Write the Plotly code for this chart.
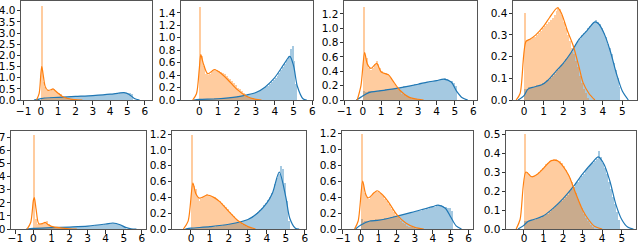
import plotly.graph_objects as go

# ---------------- data ----------------
BIN_W = 0.1
# histogram bar heights (bins of width 0.1 starting at 0)
s1_orange_hist = [4.2, 0.8, 0.6, 0.45, 0.4, 0.42, 0.48, 0.5, 0.45, 0.35, 0.3, 0.25, 0.2, 0.15, 0.12, 0.1, 0.08, 0.06, 0.05, 0.04, 0.03]
s1_blue_hist = [0.09, 0.10, 0.10, 0.11, 0.11, 0.12, 0.12, 0.12, 0.13, 0.13,
                0.13, 0.14, 0.14, 0.14, 0.15, 0.15, 0.15, 0.16, 0.16, 0.16,
                0.17, 0.17, 0.17, 0.18, 0.18, 0.18, 0.19, 0.19, 0.19, 0.20,
                0.20, 0.20, 0.21, 0.21, 0.22, 0.22, 0.23, 0.23, 0.24, 0.25,
                0.25, 0.26, 0.27, 0.28, 0.29, 0.30, 0.31, 0.32, 0.33, 0.33,
                0.32, 0.30, 0.28]
s1_orange_kde_x = [-0.25, -0.1, 0.0, 0.05, 0.12, 0.25, 0.4, 0.55, 0.7, 0.85, 1.0, 1.2, 1.5, 1.8, 2.1, 2.4]
s1_orange_kde_y = [0, 0.3, 1.2, 1.5, 1.2, 0.6, 0.44, 0.45, 0.5, 0.4, 0.3, 0.18, 0.08, 0.03, 0.01, 0]
s1_blue_kde_x = [-0.4, -0.1, 0.2, 1, 2, 3, 4, 4.5, 4.8, 5.1, 5.4, 5.7]
s1_blue_kde_y = [0, 0.04, 0.09, 0.12, 0.16, 0.2, 0.26, 0.31, 0.33, 0.25, 0.07, 0]

s2_orange_hist = [1.50, 0.70, 0.55, 0.42, 0.40, 0.42, 0.45, 0.48, 0.50, 0.48,
                  0.46, 0.45, 0.43, 0.41, 0.39, 0.36, 0.33, 0.30, 0.27, 0.24,
                  0.20, 0.17, 0.14, 0.11, 0.09, 0.07, 0.05, 0.04, 0.03, 0.02]
s2_blue_hist = [0.01, 0.01, 0.01, 0.02, 0.02, 0.02, 0.02, 0.02, 0.03, 0.03,
                0.03, 0.03, 0.03, 0.04, 0.04, 0.04, 0.04, 0.05, 0.05, 0.05,
                0.06, 0.06, 0.07, 0.07, 0.08, 0.08, 0.09, 0.10, 0.11, 0.12,
                0.13, 0.14, 0.16, 0.17, 0.19, 0.21, 0.23, 0.26, 0.29, 0.32,
                0.35, 0.39, 0.43, 0.48, 0.53, 0.58, 0.64, 0.70, 0.82, 0.86,
                0.62, 0.25]
s2_orange_kde_x = [-0.35, -0.15, 0, 0.08, 0.2, 0.45, 0.8, 1.0, 1.5, 2.0, 2.5, 3.0, 3.3]
s2_orange_kde_y = [0, 0.1, 0.5, 0.73, 0.6, 0.42, 0.49, 0.46, 0.33, 0.17, 0.06, 0.01, 0]
s2_blue_kde_x = [-0.3, 0, 1, 2, 2.5, 3, 3.5, 4, 4.5, 4.8, 5.0, 5.2, 5.5, 5.7]
s2_blue_kde_y = [0, 0.01, 0.02, 0.05, 0.08, 0.12, 0.21, 0.36, 0.58, 0.70, 0.55, 0.22, 0.02, 0]

s3_orange_hist = [1.30, 0.62, 0.58, 0.45, 0.42, 0.45, 0.50, 0.55, 0.50, 0.45,
                  0.40, 0.37, 0.37, 0.36, 0.34, 0.30, 0.26, 0.22, 0.18, 0.15,
                  0.12, 0.09, 0.07, 0.05, 0.04, 0.03, 0.02, 0.02, 0.01, 0.01]
s3_blue_hist = [0.13, 0.11, 0.11, 0.12, 0.12, 0.12, 0.13, 0.13, 0.13, 0.14,
                0.14, 0.14, 0.15, 0.15, 0.15, 0.16, 0.16, 0.16, 0.17, 0.17,
                0.18, 0.18, 0.19, 0.19, 0.20, 0.20, 0.21, 0.21, 0.22, 0.22,
                0.23, 0.23, 0.24, 0.24, 0.25, 0.25, 0.26, 0.26, 0.26, 0.27,
                0.27, 0.28, 0.28, 0.29, 0.30, 0.29, 0.28, 0.27, 0.26, 0.24,
                0.20]
s3_orange_kde_x = [-0.3, -0.1, 0.1, 0.25, 0.45, 0.75, 1.0, 1.4, 1.6, 2.0, 2.5, 3.0, 3.3]
s3_orange_kde_y = [0, 0.2, 0.66, 0.5, 0.44, 0.51, 0.39, 0.35, 0.28, 0.14, 0.04, 0.01, 0]
s3_blue_kde_x = [-0.35, -0.1, 0.3, 1, 2, 3, 3.5, 4, 4.4, 4.8, 5.1, 5.4, 5.7]
s3_blue_kde_y = [0, 0.04, 0.10, 0.13, 0.17, 0.22, 0.25, 0.27, 0.29, 0.25, 0.12, 0.03, 0]

s4_orange_hist = [0.40, 0.27, 0.28, 0.28, 0.29, 0.29, 0.30, 0.31, 0.32, 0.33,
                  0.34, 0.35, 0.36, 0.37, 0.38, 0.39, 0.41, 0.43, 0.42, 0.39,
                  0.36, 0.33, 0.30, 0.27, 0.24, 0.21, 0.18, 0.15, 0.11, 0.08,
                  0.05, 0.03, 0.01]
s4_blue_hist = [0.05, 0.05, 0.06, 0.06, 0.06, 0.06, 0.07, 0.07, 0.07, 0.08,
                0.08, 0.09, 0.09, 0.10, 0.11, 0.12, 0.13, 0.14, 0.15, 0.16,
                0.17, 0.19, 0.20, 0.21, 0.22, 0.24, 0.26, 0.27, 0.28, 0.30,
                0.31, 0.32, 0.33, 0.34, 0.35, 0.36, 0.37, 0.36, 0.35, 0.33,
                0.31, 0.29, 0.26, 0.24, 0.21, 0.17, 0.14, 0.10, 0.06]
s4_orange_kde_x = [-0.4, -0.2, 0.1, 0.3, 0.6, 1.0, 1.3, 1.7, 1.9, 2.2, 2.5, 2.8, 3.0, 3.3, 3.6]
s4_orange_kde_y = [0, 0.03, 0.27, 0.28, 0.30, 0.34, 0.38, 0.425, 0.40, 0.32, 0.25, 0.15, 0.08, 0.03, 0]
s4_blue_kde_x = [-0.3, 0, 0.2, 0.5, 0.9, 1.2, 1.6, 2.0, 2.4, 2.8, 3.2, 3.6, 3.8, 4.1, 4.4, 4.7, 5.0, 5.3]
s4_blue_kde_y = [0, 0.02, 0.05, 0.06, 0.07, 0.09, 0.13, 0.17, 0.22, 0.28, 0.32, 0.36, 0.35, 0.30, 0.22, 0.12, 0.04, 0]

s5_orange_hist = [7.2, 0.8, 0.4, 0.35, 0.38, 0.42, 0.48, 0.60, 0.35, 0.28,
                  0.22, 0.17, 0.13, 0.10, 0.08, 0.06, 0.05, 0.04, 0.03, 0.02, 0.01]
s5_blue_hist = [0.05, 0.06, 0.06, 0.07, 0.07, 0.08, 0.08, 0.09, 0.09, 0.10,
                0.10, 0.11, 0.11, 0.12, 0.12, 0.13, 0.13, 0.14, 0.14, 0.15,
                0.15, 0.16, 0.17, 0.17, 0.18, 0.19, 0.19, 0.20, 0.21, 0.22,
                0.23, 0.24, 0.25, 0.26, 0.27, 0.29, 0.30, 0.32, 0.34, 0.36,
                0.38, 0.40, 0.42, 0.44, 0.45, 0.44, 0.41, 0.36, 0.30, 0.22,
                0.13]
s5_orange_kde_x = [-0.35, -0.15, 0, 0.05, 0.15, 0.3, 0.5, 0.65, 0.8, 1.0, 1.5, 2.0, 2.4]
s5_orange_kde_y = [0, 0.5, 2.2, 2.4, 1.5, 0.4, 0.41, 0.5, 0.34, 0.2, 0.08, 0.02, 0]
s5_blue_kde_x = [-0.4, 0, 1, 2, 3, 4, 4.4, 4.8, 5.1, 5.4, 5.7]
s5_blue_kde_y = [0, 0.05, 0.1, 0.15, 0.22, 0.38, 0.46, 0.33, 0.12, 0.02, 0]

s6_orange_hist = [1.19, 0.55, 0.50, 0.40, 0.36, 0.38, 0.40, 0.42, 0.44, 0.43,
                  0.42, 0.41, 0.40, 0.38, 0.37, 0.35, 0.33, 0.31, 0.28, 0.25,
                  0.22, 0.19, 0.16, 0.13, 0.11, 0.09, 0.07, 0.05, 0.04, 0.03,
                  0.02, 0.01]
s6_blue_hist = [0.01, 0.01, 0.01, 0.01, 0.02, 0.02, 0.02, 0.02, 0.02, 0.03,
                0.03, 0.03, 0.03, 0.04, 0.04, 0.04, 0.04, 0.05, 0.05, 0.05,
                0.06, 0.06, 0.07, 0.07, 0.08, 0.08, 0.09, 0.10, 0.11, 0.12,
                0.13, 0.14, 0.16, 0.18, 0.20, 0.22, 0.24, 0.27, 0.30, 0.33,
                0.37, 0.41, 0.46, 0.51, 0.57, 0.64, 0.70, 0.80, 0.76, 0.58,
                0.35, 0.10]
s6_orange_kde_x = [-0.4, -0.15, 0.1, 0.25, 0.45, 0.85, 1.2, 1.5, 2.0, 2.5, 3.0, 3.4]
s6_orange_kde_y = [0, 0.1, 0.58, 0.45, 0.39, 0.43, 0.40, 0.35, 0.22, 0.10, 0.03, 0]
s6_blue_kde_x = [-0.3, 0, 1, 2, 3, 3.5, 4, 4.3, 4.65, 5.0, 5.2, 5.5, 5.7]
s6_blue_kde_y = [0, 0.01, 0.03, 0.06, 0.12, 0.20, 0.33, 0.46, 0.72, 0.40, 0.14, 0.01, 0]

s7_orange_hist = [1.19, 0.55, 0.45, 0.40, 0.38, 0.42, 0.45, 0.47, 0.48, 0.47,
                  0.45, 0.43, 0.41, 0.38, 0.35, 0.32, 0.28, 0.25, 0.21, 0.18,
                  0.15, 0.12, 0.10, 0.08, 0.06, 0.04, 0.03, 0.02, 0.02, 0.01]
s7_blue_hist = [0.12, 0.09, 0.10, 0.10, 0.10, 0.11, 0.11, 0.11, 0.12, 0.12,
                0.12, 0.13, 0.13, 0.14, 0.14, 0.14, 0.15, 0.15, 0.16, 0.16,
                0.17, 0.17, 0.18, 0.18, 0.19, 0.19, 0.20, 0.20, 0.21, 0.21,
                0.22, 0.22, 0.23, 0.23, 0.24, 0.24, 0.25, 0.25, 0.26, 0.27,
                0.27, 0.28, 0.29, 0.30, 0.30, 0.29, 0.28, 0.27, 0.26, 0.26,
                0.22]
s7_orange_kde_x = [-0.35, -0.15, 0.1, 0.25, 0.4, 0.9, 1.2, 1.5, 2.0, 2.5, 3.0, 3.5]
s7_orange_kde_y = [0, 0.1, 0.60, 0.45, 0.39, 0.48, 0.43, 0.35, 0.18, 0.075, 0.02, 0]
s7_blue_kde_x = [-0.3, 0, 0.5, 1, 2, 3, 3.5, 4, 4.3, 4.7, 5.0, 5.3, 5.6]
s7_blue_kde_y = [0, 0.05, 0.10, 0.11, 0.16, 0.22, 0.25, 0.28, 0.30, 0.26, 0.15, 0.04, 0]

s8_orange_hist = [0.50, 0.30, 0.29, 0.28, 0.28, 0.28, 0.29, 0.30, 0.31, 0.32,
                  0.33, 0.34, 0.35, 0.36, 0.36, 0.37, 0.37, 0.36, 0.36, 0.35,
                  0.33, 0.31, 0.29, 0.27, 0.25, 0.22, 0.19, 0.16, 0.13, 0.11,
                  0.08, 0.06, 0.04, 0.03, 0.02, 0.01]
s8_blue_hist = [0.04, 0.04, 0.04, 0.05, 0.05, 0.05, 0.06, 0.06, 0.06, 0.07,
                0.07, 0.08, 0.08, 0.09, 0.10, 0.11, 0.12, 0.13, 0.14, 0.15,
                0.16, 0.17, 0.18, 0.20, 0.21, 0.22, 0.24, 0.25, 0.27, 0.28,
                0.29, 0.31, 0.32, 0.33, 0.34, 0.35, 0.36, 0.37, 0.41, 0.38,
                0.35, 0.32, 0.29, 0.25, 0.21, 0.17, 0.13, 0.09, 0.05]
s8_orange_kde_x = [-0.4, -0.2, 0.1, 0.4, 0.7, 1.0, 1.4, 1.7, 2.0, 2.3, 2.6, 3.0, 3.3, 3.6, 4.0]
s8_orange_kde_y = [0, 0.05, 0.30, 0.275, 0.29, 0.32, 0.36, 0.36, 0.33, 0.28, 0.20, 0.10, 0.05, 0.015, 0]
s8_blue_kde_x = [-0.3, 0, 0.2, 0.5, 1, 1.5, 2, 2.5, 3, 3.5, 3.8, 4.1, 4.4, 4.7, 5.0, 5.3, 5.6]
s8_blue_kde_y = [0, 0.02, 0.04, 0.05, 0.07, 0.11, 0.16, 0.22, 0.29, 0.35, 0.38, 0.34, 0.25, 0.13, 0.05, 0.01, 0]

# axis tick values / labels
x_ticks_a = [-1, 0, 1, 2, 3, 4, 5, 6]
x_ticks_b = [0, 1, 2, 3, 4, 5, 6]
x_ticks_c = [0, 1, 2, 3, 4, 5]
y_ticks = [
    [0.0, 0.5, 1.0, 1.5, 2.0, 2.5, 3.0, 3.5, 4.0],
    [0.0, 0.2, 0.4, 0.6, 0.8, 1.0, 1.2, 1.4],
    [0.0, 0.2, 0.4, 0.6, 0.8, 1.0, 1.2],
    [0.0, 0.1, 0.2, 0.3, 0.4],
    [0, 1, 2, 3, 4, 5, 6, 7],
    [0.0, 0.2, 0.4, 0.6, 0.8, 1.0, 1.2],
    [0.0, 0.2, 0.4, 0.6, 0.8, 1.0, 1.2],
    [0.0, 0.1, 0.2, 0.3, 0.4, 0.5],
]
y_fmt = [".1f", ".1f", ".1f", ".1f", "d", ".1f", ".1f", ".1f"]

panels = [
    (s1_blue_hist, s1_orange_hist, s1_blue_kde_x, s1_blue_kde_y, s1_orange_kde_x, s1_orange_kde_y, x_ticks_a),
    (s2_blue_hist, s2_orange_hist, s2_blue_kde_x, s2_blue_kde_y, s2_orange_kde_x, s2_orange_kde_y, x_ticks_b),
    (s3_blue_hist, s3_orange_hist, s3_blue_kde_x, s3_blue_kde_y, s3_orange_kde_x, s3_orange_kde_y, x_ticks_a),
    (s4_blue_hist, s4_orange_hist, s4_blue_kde_x, s4_blue_kde_y, s4_orange_kde_x, s4_orange_kde_y, x_ticks_c),
    (s5_blue_hist, s5_orange_hist, s5_blue_kde_x, s5_blue_kde_y, s5_orange_kde_x, s5_orange_kde_y, x_ticks_a),
    (s6_blue_hist, s6_orange_hist, s6_blue_kde_x, s6_blue_kde_y, s6_orange_kde_x, s6_orange_kde_y, x_ticks_b),
    (s7_blue_hist, s7_orange_hist, s7_blue_kde_x, s7_blue_kde_y, s7_orange_kde_x, s7_orange_kde_y, x_ticks_a),
    (s8_blue_hist, s8_orange_hist, s8_blue_kde_x, s8_blue_kde_y, s8_orange_kde_x, s8_orange_kde_y, x_ticks_c),
]

# ---------------- layout geometry (pixels) ----------------
W, H = 640, 243
boxes = [  # x0, x1, ytop, ybottom
    (21, 152, 1, 100), (181, 313, 1, 100), (344, 477, 1, 100), (513, 637, 1, 100),
    (11, 146, 131, 229), (172, 306, 131, 229), (342, 473, 131, 229), (506, 636, 131, 229),
]
x_ranges = [(-1.15, 6.42), (-0.97, 6.03), (-1.02, 6.2), (-0.56, 5.74),
            (-1.24, 6.23), (-1.0, 6.06), (-1.05, 6.24), (-0.92, 5.73)]
y_ranges = [(0, 4.44), (0, 1.59), (0, 1.38), (0, 0.456),
            (0, 7.5), (0, 1.24), (0, 1.23), (0, 0.516)]

BLUE = "#1f77b4"
ORANGE = "#ff7f0e"
BLUE_FILL = "rgba(31,119,180,0.4)"
ORANGE_FILL = "rgba(255,127,14,0.4)"
FONT = dict(family="DejaVu Sans", size=10.5, color="black")

fig = go.Figure()
layout = dict(width=W, height=H, margin=dict(l=0, r=0, t=0, b=0, autoexpand=False),
              paper_bgcolor="white", plot_bgcolor="white", showlegend=False,
              barmode="overlay", bargap=0, font=FONT)

for i, (bh, oh, bkx, bky, okx, oky, xt) in enumerate(panels):
    n = i + 1
    xa = "x" if n == 1 else f"x{n}"
    ya = "y" if n == 1 else f"y{n}"
    bx = [BIN_W * (k + 0.5) for k in range(len(bh))]
    ox = [BIN_W * (k + 0.5) for k in range(len(oh))]
    fig.add_trace(go.Bar(x=bx, y=bh, width=BIN_W, marker=dict(color=BLUE_FILL, line=dict(width=0)),
                         xaxis=xa, yaxis=ya))
    fig.add_trace(go.Scatter(x=bkx, y=bky, mode="lines", line=dict(color=BLUE, width=1.2, shape="spline", smoothing=0.8),
                             xaxis=xa, yaxis=ya))
    fig.add_trace(go.Bar(x=ox, y=oh, width=BIN_W, marker=dict(color=ORANGE_FILL, line=dict(width=0)),
                         xaxis=xa, yaxis=ya))
    fig.add_trace(go.Scatter(x=okx, y=oky, mode="lines", line=dict(color=ORANGE, width=1.2, shape="spline", smoothing=0.8),
                             xaxis=xa, yaxis=ya))
    x0, x1, yt, yb = boxes[i]
    common = dict(showgrid=False, zeroline=False, showline=True, linecolor="#555555", linewidth=1,
                  mirror=True, ticks="outside", tickwidth=1, tickcolor="#333333", ticklen=3.5,
                  automargin=False, ticklabeloverflow="allow", tickfont=FONT)
    layout["xaxis" if n == 1 else f"xaxis{n}"] = dict(
        domain=[x0 / W, x1 / W], range=list(x_ranges[i]), anchor=ya,
        ticklabelstandoff=-2 if n <= 4 else -4,
        tickmode="array", tickvals=xt, ticktext=[str(v).replace("-", "\u2212") for v in xt], **common)
    layout["yaxis" if n == 1 else f"yaxis{n}"] = dict(
        domain=[1 - yb / H, 1 - yt / H], range=list(y_ranges[i]), anchor=xa,
        ticklabelstandoff=-1,
        tickmode="array", tickvals=y_ticks[i],
        ticktext=[format(v, y_fmt[i]) for v in y_ticks[i]], **common)

fig.update_layout(**layout)
fig.write_html("out.html", config={"displayModeBar": False},
               post_script="document.body.style.margin='0';document.body.style.padding='0';"
                           "document.documentElement.style.overflow='hidden';")
